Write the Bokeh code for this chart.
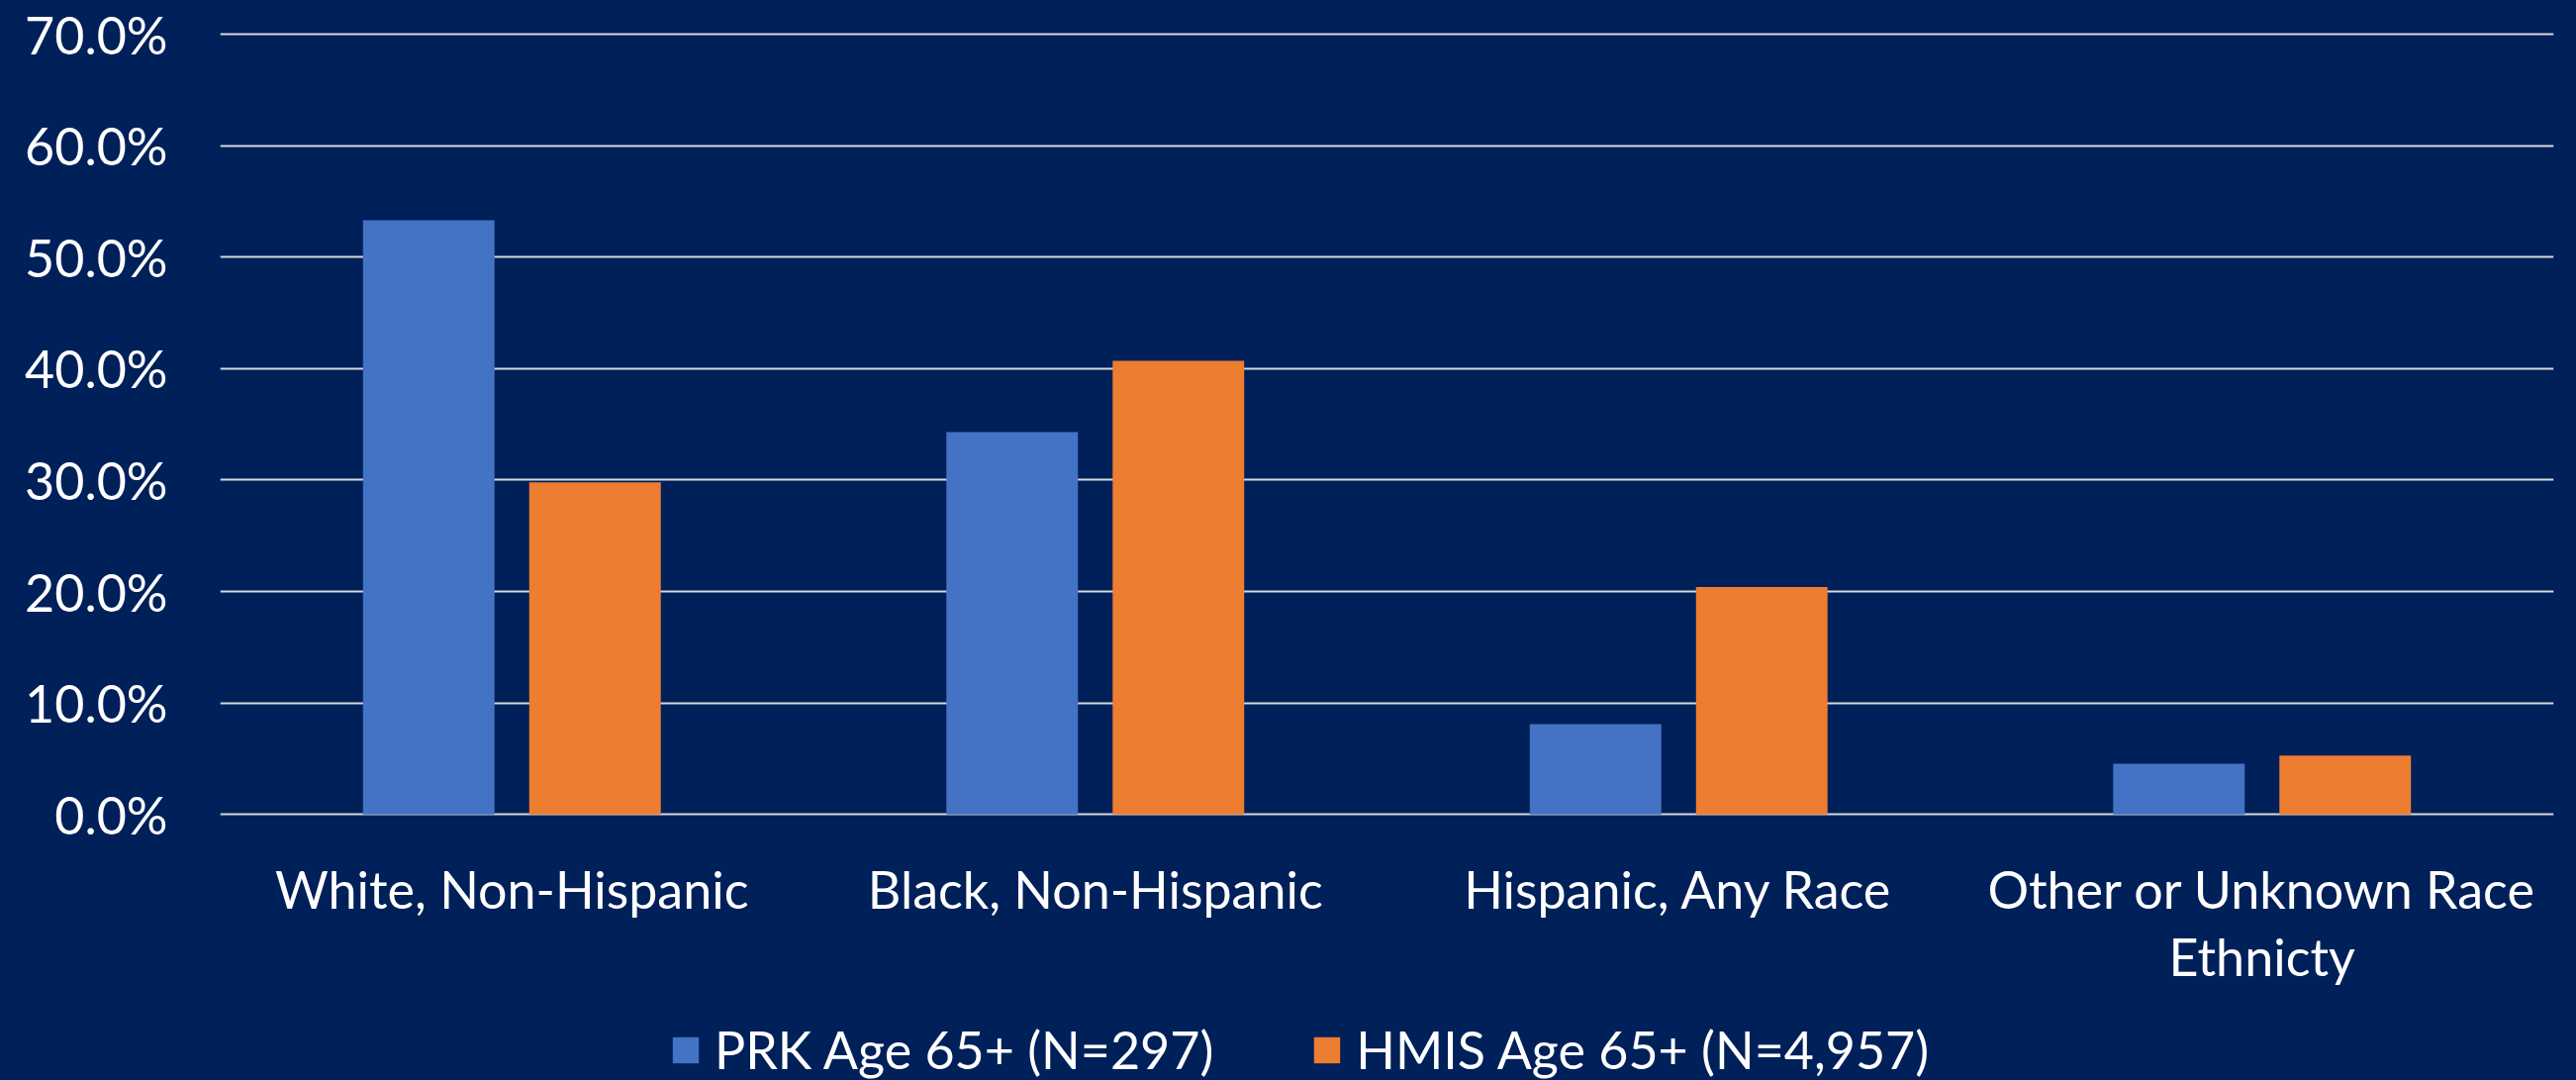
from bokeh.plotting import figure
from bokeh.models import (FactorRange, Range1d, FixedTicker, NumeralTickFormatter,
                          ColumnDataSource, GlobalInlineStyleSheet, Legend)
from bokeh.core.properties import value
from bokeh.transform import dodge
from bokeh.embed import file_html
from bokeh.resources import INLINE

# ---- data ----
categories = ["White, Non-Hispanic", "Black, Non-Hispanic", "Hispanic, Any Race",
              "Other or Unknown Race\nEthnicty"]
prk_values = [0.533, 0.343, 0.081, 0.0455]
hmis_values = [0.298, 0.407, 0.204, 0.053]
series_labels = ["PRK Age 65+ (N=297)", "HMIS Age 65+ (N=4,957)"]
y_ticks = [0.0, 0.1, 0.2, 0.3, 0.4, 0.5, 0.6, 0.7]

BG = "#00205A"
BLUE = "#4472C4"
ORANGE = "#ED7D31"
GRID = "#D9D9D9"
FONT = "Lato"
FS = "52px"

src = ColumnDataSource(data=dict(cat=categories, prk=prk_values, hmis=hmis_values,
                                 label_y=[-0.0388] * len(categories)))

p = figure(x_range=FactorRange(*categories), y_range=Range1d(-0.2386, 0.7036),
           width=2603, height=1091, output_backend="svg", toolbar_location=None,
           x_axis_location=None,
           min_border_left=222, min_border_right=23, min_border_top=30, min_border_bottom=0)
p.background_fill_color = BG
p.border_fill_color = BG
p.outline_line_color = None

bw = 0.2255
off = 0.1425
r1 = p.vbar(x=dodge("cat", -off, range=p.x_range), top="prk", bottom=0, width=bw, source=src,
            fill_color=BLUE, line_color=None)
r2 = p.vbar(x=dodge("cat", off, range=p.x_range), top="hmis", bottom=0, width=bw, source=src,
            fill_color=ORANGE, line_color=None)

# category labels (drawn under the 0% line)
p.text(x="cat", y="label_y", text="cat", source=src, text_align="center",
       text_baseline="top", text_font=value(FONT), text_font_size=FS,
       text_color="white", text_line_height=1.1)

# y axis
p.yaxis.ticker = FixedTicker(ticks=y_ticks)
p.yaxis.formatter = NumeralTickFormatter(format="0.0%")
p.yaxis.axis_line_color = None
p.yaxis.major_tick_line_color = None
p.yaxis.minor_tick_line_color = None
p.yaxis.major_tick_out = 0
p.yaxis.major_label_standoff = 53
p.yaxis.major_label_text_font = FONT
p.yaxis.major_label_text_font_size = FS
p.yaxis.major_label_text_color = "white"

# grid
p.xgrid.grid_line_color = None
p.ygrid.grid_line_color = GRID
p.ygrid.grid_line_width = 2
p.ygrid.ticker = FixedTicker(ticks=y_ticks)

# legend
lg = Legend(items=[(series_labels[0], [r1]), (series_labels[1], [r2])],
            orientation="horizontal", location=(454, 0),
            background_fill_alpha=0, border_line_color=None,
            padding=0, margin=0, spacing=98,
            glyph_width=33, glyph_height=33, label_standoff=13,
            label_text_font=FONT, label_text_font_size=FS, label_text_color="white")
p.add_layout(lg)

p.stylesheets = [GlobalInlineStyleSheet(
    css=f"html, body {{ background: {BG}; margin: 0; padding: 0; overflow: hidden; }}")]

open("out.html", "w").write(file_html(p, INLINE))
